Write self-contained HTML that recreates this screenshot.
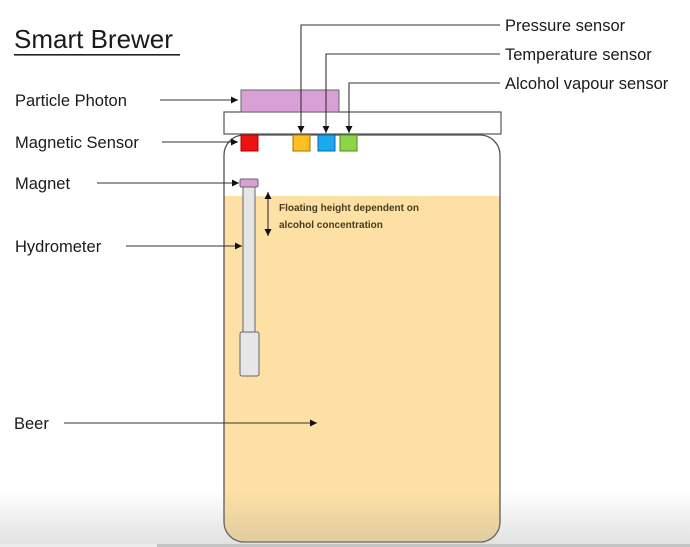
<!DOCTYPE html>
<html><head><meta charset="utf-8"><style>
html,body{margin:0;padding:0;background:#fff;}
svg{display:block;}
text{font-family:"Liberation Sans",sans-serif;fill:#1a1a1a;}
</style></head><body>
<svg width="690" height="547" viewBox="0 0 690 547" xmlns="http://www.w3.org/2000/svg">
<defs>
<marker id="a" markerWidth="8" markerHeight="8" refX="7" refY="4" orient="auto" markerUnits="userSpaceOnUse"><path d="M0,0.5 L7,4 L0,7.5z" fill="#111"/></marker>
<marker id="b" markerWidth="8" markerHeight="8" refX="7" refY="4" orient="auto-start-reverse" markerUnits="userSpaceOnUse"><path d="M0,0.5 L7,4 L0,7.5z" fill="#111"/></marker>
<linearGradient id="g" x1="0" y1="0" x2="0" y2="1">
<stop offset="0" stop-color="#999" stop-opacity="0"/>
<stop offset="1" stop-color="#999" stop-opacity="0.3"/>
</linearGradient>
<clipPath id="jc"><rect x="224" y="135" width="276" height="407" rx="20"/></clipPath>
</defs>
<rect width="690" height="547" fill="#fff"/>
<text x="14" y="48" font-size="26">Smart Brewer</text>
<rect x="14" y="54" width="166" height="1.6" fill="#222"/>
<g clip-path="url(#jc)">
<rect x="224" y="135" width="276" height="407" fill="#fff"/>
<rect x="224" y="196" width="276" height="350" fill="#fde0a3"/>
</g>
<rect x="224" y="135" width="276" height="407" rx="20" fill="none" stroke="#555" stroke-width="1.3"/>
<rect x="224" y="112" width="277" height="22" fill="#fff" stroke="#555" stroke-width="1.2"/>
<rect x="241" y="90" width="98" height="22" fill="#d9a0d8" stroke="#666" stroke-width="1"/>
<rect x="241" y="135" width="17" height="16" fill="#ee1111" stroke="#a00" stroke-width="1"/>
<rect x="293" y="135" width="17" height="16" fill="#fdc020" stroke="#a07000" stroke-width="1"/>
<rect x="318" y="135" width="17" height="16" fill="#1aa8f0" stroke="#0a6a9a" stroke-width="1"/>
<rect x="340" y="135" width="17" height="16" fill="#8ed44a" stroke="#4a8a20" stroke-width="1"/>
<rect x="243" y="187" width="12" height="146" fill="#e6e6e6" stroke="#666" stroke-width="1"/>
<rect x="240" y="332" width="19" height="44" rx="2" fill="#e6e6e6" stroke="#666" stroke-width="1"/>
<rect x="240" y="179" width="18" height="8" rx="1.5" fill="#d9a0d8" stroke="#666" stroke-width="1"/>
<g stroke="#333" stroke-width="1.1" fill="none">
<polyline points="500,25 301,25 301,133" marker-end="url(#a)"/>
<polyline points="500,54 326,54 326,133" marker-end="url(#a)"/>
<polyline points="500,83 349,83 349,133" marker-end="url(#a)"/>
<line x1="160" y1="100" x2="238" y2="100" marker-end="url(#a)"/>
<line x1="162" y1="142" x2="238" y2="142" marker-end="url(#a)"/>
<line x1="97" y1="183" x2="239" y2="183" marker-end="url(#a)"/>
<line x1="126" y1="246" x2="242" y2="246" marker-end="url(#a)"/>
<line x1="64" y1="423" x2="317" y2="423" marker-end="url(#a)"/>
<line x1="268" y1="192" x2="268" y2="236" marker-start="url(#b)" marker-end="url(#b)"/>
</g>
<text x="505" y="31" font-size="16.5">Pressure sensor</text>
<text x="505" y="60" font-size="16.5">Temperature sensor</text>
<text x="505" y="89" font-size="16.5">Alcohol vapour sensor</text>
<text x="15" y="106" font-size="16.5">Particle Photon</text>
<text x="15" y="148" font-size="16.5">Magnetic Sensor</text>
<text x="15" y="189" font-size="16.5">Magnet</text>
<text x="15" y="252" font-size="16.5">Hydrometer</text>
<text x="14" y="429" font-size="16.5">Beer</text>
<text x="279" y="211" font-size="10" font-weight="bold" style="fill:#4a3a20">Floating height dependent on</text>
<text x="279" y="228" font-size="10" font-weight="bold" style="fill:#4a3a20">alcohol concentration</text>
<rect x="0" y="490" width="690" height="57" fill="url(#g)"/>
<rect x="0" y="544" width="690" height="3" fill="#c4c4c4"/>
<rect x="0" y="544" width="157" height="3" fill="#ececec"/>
</svg>
</body></html>
